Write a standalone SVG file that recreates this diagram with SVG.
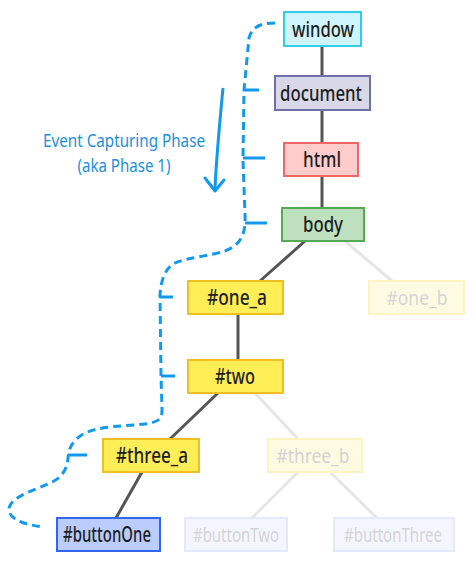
<svg xmlns="http://www.w3.org/2000/svg" width="474" height="564" viewBox="0 0 474 564">
<style>
  text { font-family: "Noto Sans", "Open Sans", "DejaVu Sans", sans-serif; font-size: 21px; font-weight: 500; text-anchor: middle; fill: #1e1e1e; }
  .lbl { fill: #1a8fe0; font-size: 18px; font-weight: 400; }
  .edge { stroke: #555; stroke-width: 3; fill: none; }
  .edge.f { stroke: #e6e6e6; }
  .path { stroke: #1199ee; stroke-width: 3; fill: none; stroke-dasharray: 8 5; }
  .tick { stroke: #1199ee; stroke-width: 3; fill: none; }
  .y rect { fill: #ffee55; stroke: #f0c020; stroke-width: 2; }
  .fy rect { fill: #fffbe2; stroke: #fff3c4; stroke-width: 2; }
  .fb rect { fill: #f4f6ff; stroke: #e4e9ff; stroke-width: 2; }
  .fy text, .fb text { fill: #d4d4d4; font-weight: 400; font-size: 20px; }
</style>
<rect width="474" height="564" fill="#fff"/>
<g id="connectors">
  <line class="edge" x1="322" y1="46" x2="322" y2="76"/>
  <line class="edge" x1="322" y1="110" x2="322" y2="143"/>
  <line class="edge" x1="322" y1="176" x2="322" y2="208"/>
  <line class="edge" x1="305" y1="241" x2="260" y2="281"/>
  <line class="edge f" x1="345" y1="241" x2="392" y2="281"/>
  <line class="edge" x1="238" y1="314" x2="238" y2="360"/>
  <line class="edge" x1="218" y1="393" x2="170" y2="439"/>
  <line class="edge f" x1="255" y1="393" x2="298" y2="439"/>
  <line class="edge" x1="142" y1="472" x2="116" y2="518"/>
  <line class="edge f" x1="298" y1="472" x2="252" y2="518"/>
  <line class="edge f" x1="330" y1="472" x2="377" y2="518"/>
</g>
<g id="capture-path">
  <path class="path" d="M275,23 C262,23 252,26 249,38 L244,90 L243,160 L245,215 C246,235 240,245 225,251 C210,256 185,258 175,263 C165,268 161,280 160,295 L161,375 L162,410 C162,420 158,422 145,424 C125,426 100,426 85,433 C72,440 69,448 68,458 C67,470 62,478 48,484 C35,490 12,496 9,508 C8,520 25,525 45,527"/>
  <line class="tick" x1="243" y1="90" x2="259" y2="90"/>
  <line class="tick" x1="243" y1="158" x2="265" y2="158"/>
  <line class="tick" x1="245" y1="223" x2="267" y2="223"/>
  <line class="tick" x1="160" y1="297" x2="173" y2="297"/>
  <line class="tick" x1="161" y1="376" x2="175" y2="376"/>
  <line class="tick" x1="68" y1="455" x2="87" y2="455"/>
</g>
<g id="capture-label">
  <path class="tick" d="M223,88 C220,120 216,160 215,190"/>
  <polyline class="tick" points="205,178 215,191 224,180" stroke-linejoin="round" stroke-linecap="round"/>
  <text class="lbl" x="124" y="147" textLength="162" lengthAdjust="spacingAndGlyphs">Event Capturing Phase</text>
  <text class="lbl" x="124" y="172" textLength="93" lengthAdjust="spacingAndGlyphs">(aka Phase 1)</text>
</g>
<g id="window">
  <rect x="284" y="12" width="77" height="34" fill="#d0f4fc" stroke="#33ccee" stroke-width="2"/>
  <text x="323" y="37" textLength="62" lengthAdjust="spacingAndGlyphs">window</text>
</g>
<g id="document">
  <rect x="275" y="76" width="95" height="34" fill="#d8d8e8" stroke="#7070a8" stroke-width="2"/>
  <text x="321" y="101" textLength="82" lengthAdjust="spacingAndGlyphs">document</text>
</g>
<g id="html">
  <rect x="284" y="143" width="74" height="33" fill="#ffcccc" stroke="#ee6666" stroke-width="2"/>
  <text x="322" y="167" textLength="38" lengthAdjust="spacingAndGlyphs">html</text>
</g>
<g id="body">
  <rect x="282" y="208" width="82" height="33" fill="#bfe0bf" stroke="#55aa55" stroke-width="2"/>
  <text x="323" y="232" textLength="40" lengthAdjust="spacingAndGlyphs">body</text>
</g>
<g id="one_a" class="y">
  <rect x="188" y="281" width="95" height="33"/>
  <text x="237" y="305" textLength="60" lengthAdjust="spacingAndGlyphs">#one_a</text>
</g>
<g id="one_b" class="fy">
  <rect x="369" y="281" width="95" height="33"/>
  <text x="417" y="305" textLength="61" lengthAdjust="spacingAndGlyphs">#one_b</text>
</g>
<g id="two" class="y">
  <rect x="188" y="360" width="95" height="33"/>
  <text x="235" y="384" textLength="40" lengthAdjust="spacingAndGlyphs">#two</text>
</g>
<g id="three_a" class="y">
  <rect x="103" y="439" width="96" height="33"/>
  <text x="152" y="463" textLength="72" lengthAdjust="spacingAndGlyphs">#three_a</text>
</g>
<g id="three_b" class="fy">
  <rect x="268" y="439" width="94" height="33"/>
  <text x="313" y="463" textLength="73" lengthAdjust="spacingAndGlyphs">#three_b</text>
</g>
<g id="buttonOne">
  <rect x="57" y="518" width="103" height="33" fill="#bbccff" stroke="#3366ee" stroke-width="2"/>
  <text x="107" y="542" textLength="88" lengthAdjust="spacingAndGlyphs">#buttonOne</text>
</g>
<g id="buttonTwo" class="fb">
  <rect x="185" y="518" width="102" height="33"/>
  <text x="236" y="542" textLength="86" lengthAdjust="spacingAndGlyphs">#buttonTwo</text>
</g>
<g id="buttonThree" class="fb">
  <rect x="334" y="518" width="120" height="33"/>
  <text x="393" y="542" textLength="98" lengthAdjust="spacingAndGlyphs">#buttonThree</text>
</g>
</svg>
